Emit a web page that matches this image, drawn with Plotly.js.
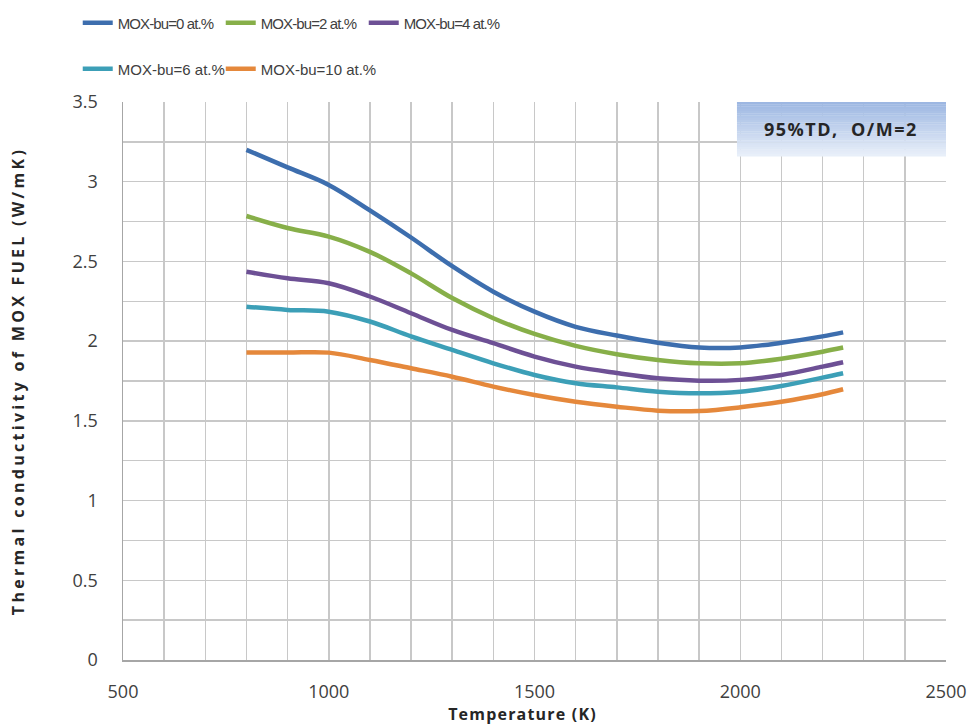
<!DOCTYPE html>
<html>
<head>
<meta charset="utf-8">
<script src="https://cdn.plot.ly/plotly-3.0.1.min.js"></script>
<style>
html,body{margin:0;padding:0;background:#fff;}
#chart{width:976px;height:727px;}
.legendtext{letter-spacing:-0.9px;}
.scrollbox{clip-path:none !important;}
.ytitle{letter-spacing:3.3px;}
.xtitle{letter-spacing:1.2px;transform:translateX(-12px);}
.annotation-text{letter-spacing:1.5px;}
</style>
</head>
<body>
<div id="chart"></div>
<script>
// Temperature (K)
const temperature = [800, 900, 1000, 1100, 1200, 1300, 1400, 1500, 1600, 1700, 1800, 1900, 2000, 2100, 2200, 2250];
// Thermal conductivity (W/mK)
const bu0  = [3.20, 3.09, 2.98, 2.82, 2.65, 2.47, 2.31, 2.185, 2.09, 2.035, 1.99, 1.96, 1.96, 1.99, 2.03, 2.055];
const bu2  = [2.785, 2.71, 2.656, 2.56, 2.425, 2.27, 2.144, 2.045, 1.97, 1.918, 1.882, 1.861, 1.861, 1.89, 1.934, 1.96];
const bu4  = [2.435, 2.394, 2.363, 2.28, 2.175, 2.07, 1.987, 1.903, 1.84, 1.80, 1.767, 1.752, 1.757, 1.788, 1.84, 1.868];
const bu6  = [2.216, 2.196, 2.185, 2.123, 2.03, 1.945, 1.861, 1.788, 1.736, 1.71, 1.683, 1.673, 1.683, 1.719, 1.771, 1.799];
const bu10 = [1.928, 1.928, 1.928, 1.882, 1.83, 1.777, 1.715, 1.662, 1.62, 1.589, 1.564, 1.562, 1.585, 1.62, 1.667, 1.698];

const seriesNames = ["MOX-bu=0 at.%", "MOX-bu=2 at.%", "MOX-bu=4 at.%", "MOX-bu=6 at.%", "MOX-bu=10 at.%"];
const seriesValues = [bu0, bu2, bu4, bu6, bu10];
const seriesColors = ["#3d6eae", "#87af49", "#6d5095", "#3c9fb7", "#e5883b"];
const legendIds = ["legend", "legend", "legend", "legend2", "legend2"];

const LFONT = '"Liberation Sans", Arial, sans-serif';
const TFONT = '"Open Sans", sans-serif';
const BOLD = '"Open Sans", "DejaVu Sans", sans-serif';

const traces = seriesValues.map((vals, i) => ({
  x: temperature,
  y: vals,
  name: seriesNames[i],
  type: 'scatter',
  mode: 'lines',
  line: {color: seriesColors[i], width: 4.5, shape: 'spline', smoothing: 1},
  legend: legendIds[i],
  hoverinfo: 'x+y+name'
}));

// gradient box for annotation
const boxShapes = [];
const nStrips = 24;
const bx0 = 0.746, bx1 = 1.0, by0 = 0.903, by1 = 1.0;
const gradTop = [155, 182, 225], gradBot = [234, 240, 249];
for (let k = 0; k < nStrips; k++) {
  const t = (k + 0.5) / nStrips;
  const c = gradTop.map((v, j) => Math.round(v + (gradBot[j] - v) * t));
  boxShapes.push({
    type: 'rect', xref: 'paper', yref: 'paper', layer: 'above',
    x0: bx0, x1: bx1,
    y0: by1 - (by1 - by0) * (k + 1) / nStrips - 0.0005,
    y1: by1 - (by1 - by0) * k / nStrips,
    fillcolor: `rgb(${c[0]},${c[1]},${c[2]})`, line: {width: 0}
  });
}

const legendCommon = {
  orientation: 'h', xref: 'paper', x: -0.055, xanchor: 'left',
  yref: 'container', yanchor: 'middle',
  entrywidth: 98, entrywidthmode: 'pixels',
  font: {family: LFONT, size: 15, color: '#404040'}, bgcolor: 'rgba(0,0,0,0)'
};

const layout = {
  width: 976, height: 727,
  margin: {l: 123, r: 30, t: 102, b: 67},
  paper_bgcolor: '#ffffff', plot_bgcolor: '#ffffff',
  font: {family: TFONT, size: 16, color: '#404040'},
  showlegend: true,
  legend: Object.assign({}, legendCommon, {y: 1 - 23 / 727}),
  legend2: Object.assign({}, legendCommon, {y: 1 - 69 / 727}),
  xaxis: {
    range: [500, 2500], dtick: 500, tick0: 500, showgrid: true,
    gridcolor: '#c8c8c8', gridwidth: 1.5,
    minor: {dtick: 100, showgrid: true, gridcolor: '#c8c8c8', gridwidth: 1.5},
    showline: true, linecolor: '#a6a6a6', linewidth: 1.5,
    zeroline: false, ticks: '', ticklen: 0, ticklabelstandoff: 15,
    tickfont: {family: TFONT, size: 18, color: '#404040'},
    title: {text: 'Temperature (K)', font: {family: BOLD, size: 16, weight: 'bold', color: '#262626'}, standoff: 0}
  },
  yaxis: {
    range: [0, 3.5], dtick: 0.5, tick0: 0, showgrid: true,
    gridcolor: '#c8c8c8', gridwidth: 1.5,
    minor: {dtick: 0.25, showgrid: true, gridcolor: '#c8c8c8', gridwidth: 1.5},
    showline: true, linecolor: '#a6a6a6', linewidth: 1.5,
    zeroline: false, ticks: '', ticklen: 0, ticklabelstandoff: 20,
    tickfont: {family: TFONT, size: 18, color: '#404040'},
    title: {text: 'Thermal conductivity of MOX FUEL (W/mK)', font: {family: BOLD, size: 16, weight: 'bold', color: '#262626'}, standoff: 44}
  },
  shapes: boxShapes,
  annotations: [{
    xref: 'paper', yref: 'paper', x: (bx0 + bx1) / 2, y: (by0 + by1) / 2,
    xanchor: 'center', yanchor: 'middle', showarrow: false,
    text: '95%TD,  O/M=2',
    font: {family: BOLD, size: 18, weight: 'bold', color: '#262626'}
  }]
};

Plotly.newPlot('chart', traces, layout, {displayModeBar: false, staticPlot: true});
</script>
</body>
</html>
